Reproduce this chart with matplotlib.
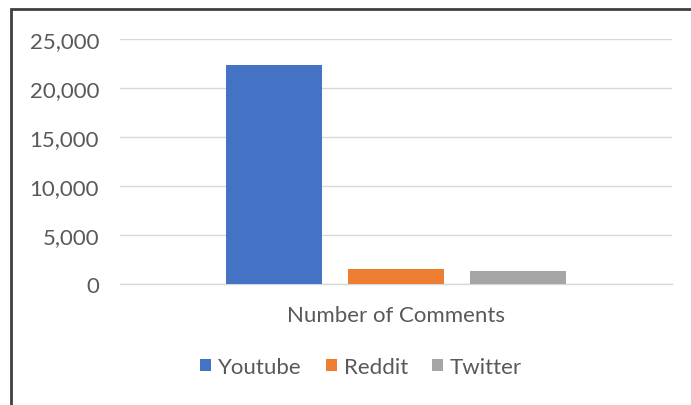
import matplotlib
matplotlib.use("Agg")
import matplotlib.pyplot as plt
from matplotlib.patches import Rectangle, Patch

categories = ["Number of Comments"]
series_names = ["Youtube", "Reddit", "Twitter"]
series_values = [22350, 1530, 1360]
colors = ["#4472C4", "#ED7D31", "#A5A5A5"]
yticks = [0, 5000, 10000, 15000, 20000, 25000]
ytick_labels = ["0", "5,000", "10,000", "15,000", "20,000", "25,000"]

plt.rcParams['font.family'] = ['Lato', 'DejaVu Sans']
text_color = "#595959"

fig = plt.figure(figsize=(6.91, 4.06), dpi=100)
ax = fig.add_axes([120/691, 1-285/406, (672-120)/691, (285-40)/406])

offsets = [-1.27, 0, 1.27]
for off, name, val, c in zip(offsets, series_names, series_values, colors):
    ax.bar(off, val, width=1.0, color=c, label=name, zorder=3)

ax.set_xlim(-2.875, 2.875)
ax.set_ylim(0, 25000)
ax.set_yticks(yticks, labels=ytick_labels)
ax.set_xticks([0], labels=categories)
ax.tick_params(axis='y', length=0, pad=15, labelsize=16, labelcolor=text_color)
ax.tick_params(axis='x', length=0, pad=15, labelsize=16, labelcolor=text_color)
ax.grid(axis='y', color="#D9D9D9", linewidth=1.0, zorder=0)
for s in ["top", "right", "left"]:
    ax.spines[s].set_visible(False)
ax.spines["bottom"].set_color("#D9D9D9")
ax.spines["bottom"].set_linewidth(1.0)

handles = [Patch(facecolor=c, edgecolor='none') for c in colors]
fig.legend(handles, series_names, loc='center', bbox_to_anchor=(361/691, 1-368/406),
           ncol=3, frameon=False, fontsize=16, labelcolor=text_color,
           handlelength=0.5, handleheight=0.5, handletextpad=0.3, columnspacing=1.1)

# chart border
fig.patches.append(Rectangle((11/691, -0.1), 1.2, 1 - 10/406 + 0.1, transform=fig.transFigure,
                             fill=False, edgecolor="#404040", linewidth=2, zorder=10))

fig.savefig("out.png", dpi=100)
